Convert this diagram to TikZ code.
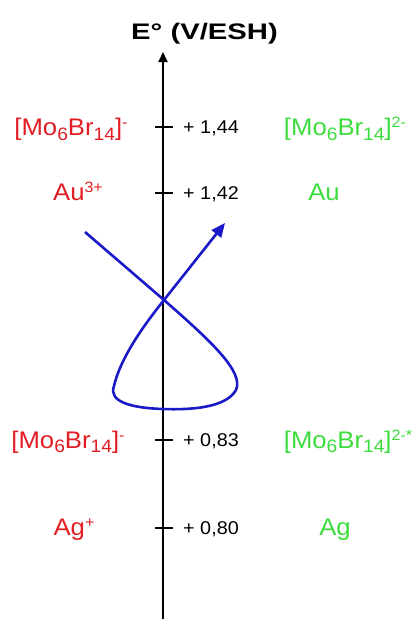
\documentclass[tikz,border=0pt]{standalone}
\usepackage{fontspec}
\setmainfont[FakeStretch=1.07]{Liberation Sans}
\newfontfamily\titlefont[FakeStretch=1.3]{Liberation Sans Bold}
\usetikzlibrary{arrows.meta}
\definecolor{oxred}{RGB}{225,30,35}
\definecolor{redgreen}{RGB}{60,220,60}
\definecolor{loopblue}{RGB}{25,25,200}
\newcommand{\ionsub}[1]{\raisebox{-4.5pt}{\fontsize{18}{20}\selectfont #1}}
\newcommand{\ionsup}[1]{\raisebox{8pt}{\fontsize{15}{17}\selectfont #1}}

\begin{document}
\begin{tikzpicture}[x=1pt,y=-1pt,
    oxlabel/.style={text=oxred,font=\fontsize{24}{27}\selectfont,anchor=base,inner sep=0pt},
    redlabel/.style={text=redgreen,font=\fontsize{24}{27}\selectfont,anchor=base,inner sep=0pt},
    potential/.style={font=\fontsize{18.5}{22}\selectfont,anchor=base west,inner sep=0pt}]
    \useasboundingbox (0,0) rectangle (417,619);

    % Define axis ends
    \coordinate (bottom) at (163,619);
    \coordinate (top) at (163,52);

    % Draw potential axis
    \draw[line width=2.2pt,-{Triangle[length=10pt,width=9pt]}] (bottom) -- (top);
    \node[font=\titlefont\fontsize{22.5}{26}\selectfont,anchor=base] (title) at (204.5,39) {E° (V/ESH)};

    % Ticks and values
    \draw[line width=1.8pt] (155,127) -- (173,127);
    \draw[line width=1.8pt] (155,193) -- (173,193);
    \draw[line width=1.8pt] (155,440) -- (173,440);
    \draw[line width=1.8pt] (155,528) -- (173,528);
    \node[potential] (v144) at (183,133.5) {+ 1,44};
    \node[potential] (v142) at (183,199.5) {+ 1,42};
    \node[potential] (v083) at (183,446.5) {+ 0,83};
    \node[potential] (v080) at (183,534.5) {+ 0,80};

    % Oxidised forms (left)
    \node[oxlabel] (moox) at (71,135.5) {[Mo\ionsub{6}Br\ionsub{14}]\ionsup{-}};
    \node[oxlabel] (auox) at (78,200.5) {Au\ionsup{3+}};
    \node[oxlabel] (moexc) at (68,448) {[Mo\ionsub{6}Br\ionsub{14}]\ionsup{-}};
    \node[oxlabel] (agox) at (74,535.5) {Ag\ionsup{+}};

    % Reduced forms (right)
    \node[redlabel] (mored) at (345,135.5) {[Mo\ionsub{6}Br\ionsub{14}]\ionsup{2-}};
    \node[redlabel] (aured) at (324,200.5) {Au};
    \node[redlabel] (moexcred) at (348,448) {[Mo\ionsub{6}Br\ionsub{14}]\ionsup{2-*}};
    \node[redlabel] (agred) at (335,535.5) {Ag};

    % Loop between the couples
    \coordinate (start) at (85,232);
    \coordinate (cross) at (164,300);
    \coordinate (tip) at (225,223);
    \draw[loopblue,line width=2.6pt,-{Triangle[length=14pt,width=12pt]}]
        (start) -- (cross) .. controls (212,342) and (244,372) .. (236,390)
        .. controls (226,408) and (190,410) .. (163,409)
        .. controls (132,408) and (108,402) .. (114,386)
        .. controls (120,360) and (140,330) .. (cross) -- (tip);

\end{tikzpicture}
\end{document}
